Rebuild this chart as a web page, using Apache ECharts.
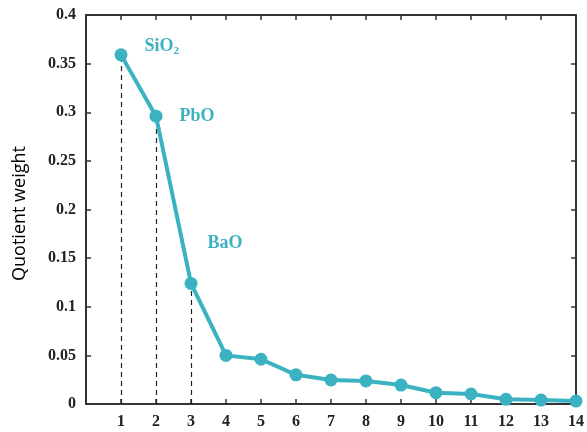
<!DOCTYPE html>
<html>
<head>
<meta charset="utf-8">
<script src="https://cdn.jsdelivr.net/npm/echarts@6/dist/echarts.min.js"></script>
<style>
  html, body { margin: 0; padding: 0; background: #fff; }
  #chart { width: 587px; height: 432px; }
</style>
</head>
<body>
<div id="chart"></div>
<script>
// Component index (1..14) and its quotient weight
const components = [1, 2, 3, 4, 5, 6, 7, 8, 9, 10, 11, 12, 13, 14];
const weights = [0.359, 0.296, 0.124, 0.050, 0.046, 0.030, 0.0247, 0.0237, 0.0195, 0.0116, 0.0103, 0.0048, 0.004, 0.003];
// Named oxides for the leading components
const oxideNames = ['SiO{s|2}', 'PbO', 'BaO'];
const yTicks = [0, 0.05, 0.1, 0.15, 0.2, 0.25, 0.3, 0.35, 0.4];

const teal = '#3bb2c2';
const axisColor = '#333';
const serif = '"Liberation Serif", "Times New Roman", serif';

const chart = echarts.init(document.getElementById('chart'), null, { renderer: 'canvas' });

const labelOffsets = [[12, -9], [12, 0], [5, -40]];

const points = components.map((c, i) => {
  const item = { value: [c, weights[i]] };
  if (i < oxideNames.length) {
    item.label = {
      show: true,
      position: 'right',
      offset: labelOffsets[i],
      formatter: oxideNames[i],
      color: teal,
      fontFamily: serif,
      fontWeight: 'bold',
      fontSize: 18,
      rich: {
        s: { fontSize: 11, fontFamily: serif, fontWeight: 'bold', color: teal, padding: [10, 0, 0, 0] }
      }
    };
  }
  return item;
});

// Dashed drop lines beneath the named components
const dropLines = oxideNames.map((_, i) => [
  { coord: [components[i], 0] },
  { coord: [components[i], weights[i]] }
]);

const axisBase = {
  type: 'value',
  axisLine: { show: true, onZero: false, lineStyle: { color: axisColor, width: 2 } },
  axisTick: { show: true, inside: true, length: 5, lineStyle: { color: axisColor, width: 1.5 } },
  splitLine: { show: false }
};

chart.setOption({
  animation: false,
  grid: { left: 86, right: 8, top: 15, bottom: 28, containLabel: false },
  xAxis: [
    Object.assign({}, axisBase, {
      min: 0, max: 14, interval: 1,
      axisLabel: {
        color: '#222', fontFamily: serif, fontWeight: 'bold', fontSize: 16, margin: 10,
        formatter: v => (v === 0 ? '' : String(v))
      }
    }),
    Object.assign({}, axisBase, {
      position: 'top',
      min: 0, max: 14, interval: 1,
      axisLabel: { show: false }
    })
  ],
  yAxis: [
    Object.assign({}, axisBase, {
      min: 0, max: 0.4, interval: 0.05,
      name: 'Quotient weight',
      nameLocation: 'middle',
      nameGap: 57,
      nameTextStyle: { color: '#000', fontFamily: '"Open Sans", sans-serif', fontSize: 18, padding: [0, 8, 0, 0] },
      axisLabel: {
        color: '#222', fontFamily: serif, fontWeight: 'bold', fontSize: 16, margin: 10,
        formatter: v => String(parseFloat(v.toFixed(2)))
      }
    }),
    Object.assign({}, axisBase, {
      position: 'right',
      min: 0, max: 0.4, interval: 0.05,
      axisLabel: { show: false }
    })
  ],
  series: [
    {
      type: 'line',
      data: points,
      symbol: 'circle',
      symbolSize: 13,
      lineStyle: { color: teal, width: 4 },
      itemStyle: { color: teal },
      z: 3,
      markLine: {
        silent: true,
        symbol: ['none', 'none'],
        label: { show: false },
        lineStyle: { color: '#222', type: [5, 4], width: 1.2 },
        data: dropLines,
        z: 1
      }
    }
  ]
});
</script>
</body>
</html>
